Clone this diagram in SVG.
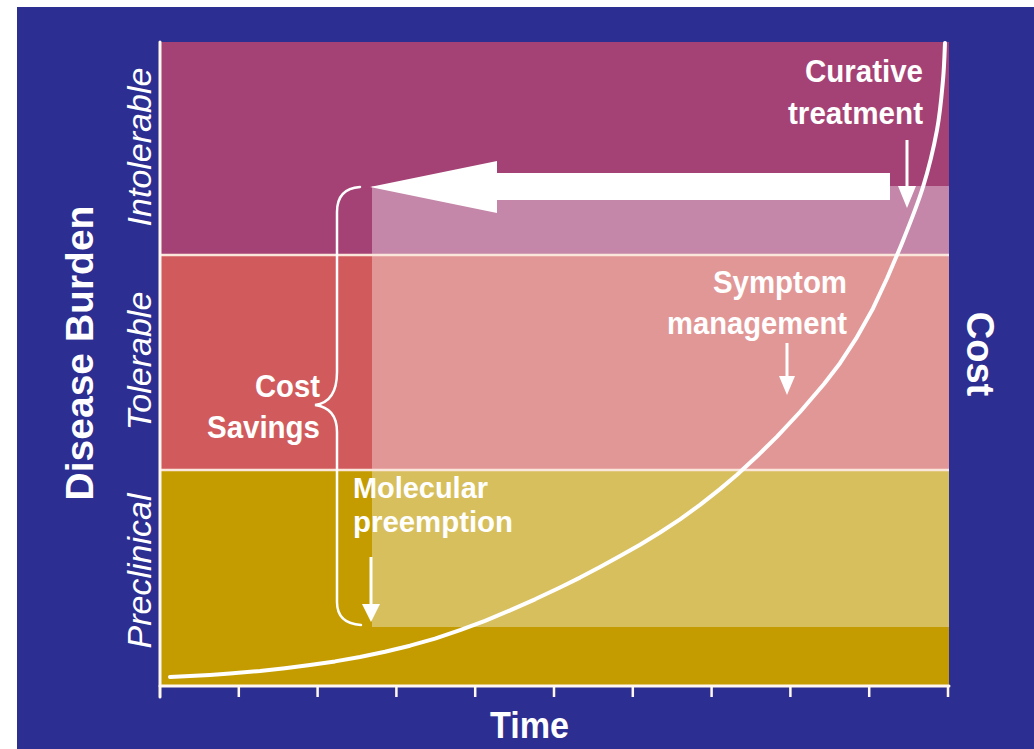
<svg xmlns="http://www.w3.org/2000/svg" width="1034" height="749" viewBox="0 0 1034 749">
  <style>
    .lbl { font-family: "Liberation Sans", Arial, sans-serif; font-weight: bold; fill: #ffffff; }
    .zone { font-family: "Liberation Sans", Arial, sans-serif; font-style: italic; fill: #ffffff; font-size: 34px; }
    .sep { stroke: #fbe6dc; stroke-width: 2.5; fill: none; }
    .axis { stroke: #fff8f0; stroke-width: 3; fill: none; stroke-linecap: round; }
    .tick { stroke: #fff8f0; stroke-width: 2.5; fill: none; }
    .pointer { stroke: #ffffff; stroke-width: 3; fill: none; }
    .head { fill: #ffffff; }
  </style>

  <!-- page and slide background -->
  <rect x="0" y="0" width="1034" height="749" fill="#ffffff"/>
  <rect x="17" y="7" width="1017" height="742" fill="#2d2e91"/>

  <!-- disease-burden bands -->
  <g id="bands">
    <rect id="band-intolerable" x="161" y="42" width="788" height="213" fill="#a54275"/>
    <rect id="band-tolerable" x="161" y="255" width="788" height="215" fill="#d15b5c"/>
    <rect id="band-preclinical" x="161" y="470" width="788" height="216" fill="#c49c00"/>
  </g>

  <!-- lightened area showing the savings from earlier intervention -->
  <g id="savings-area">
    <rect x="372" y="186" width="577" height="69" fill="#c487a9"/>
    <rect x="372" y="255" width="577" height="215" fill="#e29797"/>
    <rect x="372" y="470" width="577" height="157" fill="#d7bf5e"/>
  </g>

  <!-- band separators -->
  <line class="sep" x1="161" y1="255" x2="949" y2="255"/>
  <line class="sep" x1="161" y1="470" x2="949" y2="470"/>

  <!-- axes and time ticks -->
  <g id="axes">
    <line class="axis" x1="160" y1="42" x2="160" y2="697"/>
    <line class="axis" x1="160" y1="686" x2="949" y2="686"/>
    <path class="tick" d="M238.8,686V697 M317.6,686V697 M396.4,686V697 M475.2,686V697 M554,686V697 M632.8,686V697 M711.6,686V697 M790.4,686V697 M869.2,686V697 M948,686V697"/>
  </g>

  <!-- cost curve -->
  <g id="cost-curve">
    <path d="M170,677 L190,676.1 L210,674.9 L230,673.5 L260,671 L285,668.3 L310,665.1 L335,661.4 L360,657 L385,651.8 L410,645.7 L435,638.6 L460,630.2 L485,620.8 L510,610.4 L535,599.3 L560,587.5 L580,577.6 L600,567.1 L620,556.1 L640,544.7 L660,532.5 L680,519.3 L700,504.9 L720,489.1 L737,474.7 L757,456.3 L777,436.6 L800,412 L824,384 L840,363.2 L856,338.7 L873,308.4 L887,278.5 L900,248 C908.3,227.5 916.8,207 923,187 C929.2,167 933.7,147.8 937,130 C940.3,112.2 941.7,94.5 943,80 C944.3,65.5 944.7,49.2 945,43" fill="none" stroke="#ffffff" stroke-width="4" stroke-linecap="round" stroke-linejoin="round"/>
  </g>

  <!-- connectors: shift arrow, brace and pointer arrows -->
  <g id="connectors">
    <polygon id="shift-arrow" points="370,187 497,161 497,173 890,173 890,200 497,200 497,213" fill="#ffffff"/>
    <path id="savings-brace" d="M360,187 C345,188 337,196 337,212 L337,372 C337,392 330,403 315,405 C330,407 337,416 337,432 L337,602 C337,616 345,624 361,625" fill="none" stroke="#ffffff" stroke-width="2.5" stroke-linecap="round"/>
    <g id="arrow-curative">
      <line class="pointer" x1="907" y1="140" x2="907" y2="188"/>
      <polygon class="head" points="898,186 916,186 907,208"/>
    </g>
    <g id="arrow-symptom">
      <line class="pointer" x1="787" y1="343" x2="787" y2="378"/>
      <polygon class="head" points="779,376 795,376 787,395"/>
    </g>
    <g id="arrow-molecular">
      <line class="pointer" x1="371" y1="557" x2="371" y2="606"/>
      <polygon class="head" points="362,604 380,604 371,622"/>
    </g>
  </g>

  <!-- annotations -->
  <g id="curative-treatment">
    <text class="lbl" x="805" y="82" font-size="32" textLength="118" lengthAdjust="spacingAndGlyphs">Curative</text>
    <text class="lbl" x="788" y="124" font-size="32" textLength="135" lengthAdjust="spacingAndGlyphs">treatment</text>
  </g>
  <g id="symptom-management">
    <text class="lbl" x="713" y="293" font-size="31" textLength="134" lengthAdjust="spacingAndGlyphs">Symptom</text>
    <text class="lbl" x="667" y="334" font-size="31" textLength="180" lengthAdjust="spacingAndGlyphs">management</text>
  </g>
  <g id="cost-savings">
    <text class="lbl" x="255" y="397" font-size="31" textLength="65" lengthAdjust="spacingAndGlyphs">Cost</text>
    <text class="lbl" x="207" y="438" font-size="31" textLength="113" lengthAdjust="spacingAndGlyphs">Savings</text>
  </g>
  <g id="molecular-preemption">
    <text class="lbl" x="353" y="498" font-size="30" textLength="135" lengthAdjust="spacingAndGlyphs">Molecular</text>
    <text class="lbl" x="353" y="532" font-size="30" textLength="160" lengthAdjust="spacingAndGlyphs">preemption</text>
  </g>

  <!-- axis titles -->
  <g id="axis-time">
    <text class="lbl" x="490" y="738" font-size="36" textLength="79" lengthAdjust="spacingAndGlyphs">Time</text>
  </g>
  <g id="axis-burden">
    <text class="lbl" transform="translate(93,353) rotate(-90)" x="0" y="0" font-size="39" text-anchor="middle">Disease Burden</text>
  </g>
  <g id="axis-cost">
    <text class="lbl" transform="translate(967,354) rotate(90)" x="0" y="0" font-size="38" text-anchor="middle">Cost</text>
  </g>

  <!-- burden levels -->
  <g id="zone-labels">
    <text class="zone" transform="translate(151,147) rotate(-90)" text-anchor="middle">Intolerable</text>
    <text class="zone" transform="translate(151,361) rotate(-90)" text-anchor="middle">Tolerable</text>
    <text class="zone" transform="translate(151,571) rotate(-90)" text-anchor="middle">Preclinical</text>
  </g>
</svg>
